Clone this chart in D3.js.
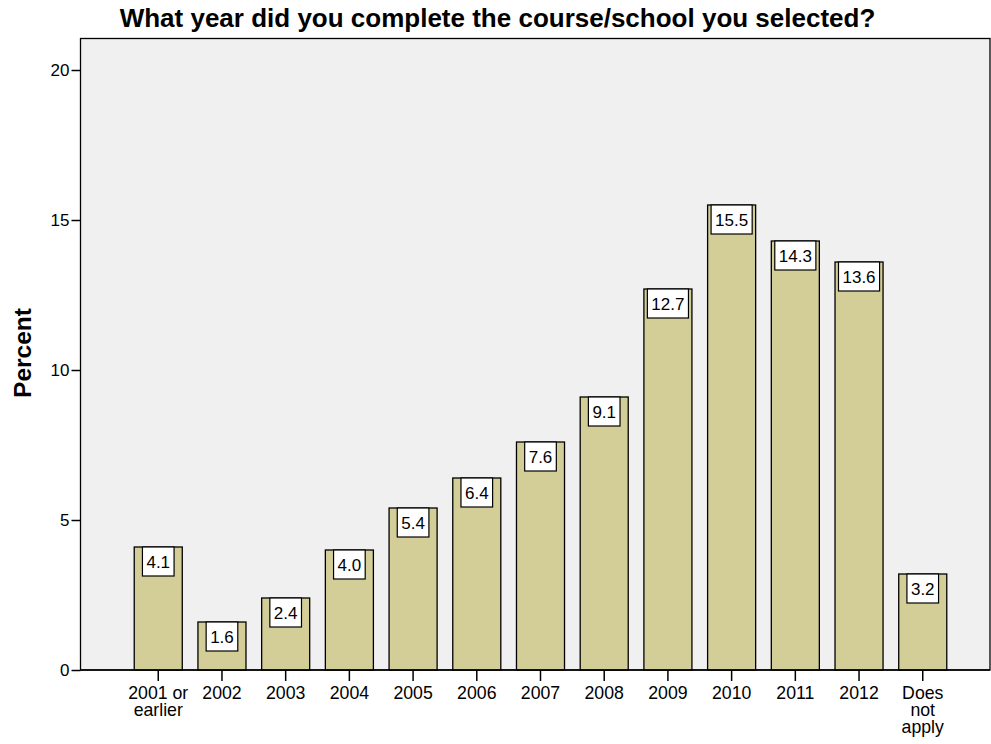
<!DOCTYPE html>
<html>
<head>
<meta charset="utf-8">
<script src="https://cdn.jsdelivr.net/npm/d3@7"></script>
<style>
  body { margin: 0; background: #fff; }
  svg { display: block; font-family: Arial, "Liberation Sans", sans-serif; }
</style>
</head>
<body>
<div id="chart"></div>
<script>
const width = 991;
const height = 744;

// data
const categories = ['2001 or earlier', '2002', '2003', '2004', '2005', '2006', '2007',
  '2008', '2009', '2010', '2011', '2012', 'Does not apply'];
const tickLines = [['2001 or', 'earlier'], ['2002'], ['2003'], ['2004'], ['2005'], ['2006'],
  ['2007'], ['2008'], ['2009'], ['2010'], ['2011'], ['2012'], ['Does', 'not', 'apply']];
const percents = [4.1, 1.6, 2.4, 4.0, 5.4, 6.4, 7.6, 9.1, 12.7, 15.5, 14.3, 13.6, 3.2];
const yTicks = [0, 5, 10, 15, 20];

const frame = { left: 80.5, right: 990, top: 38.5, bottom: 670 };

const svg = d3.select('#chart')
  .append('svg')
  .attr('width', width)
  .attr('height', height);

const xScale = d3.scaleBand()
  .domain(categories)
  .range([126.4, 954.6])
  .paddingInner(0.246)
  .paddingOuter(0.123);

const yScale = d3.scaleLinear()
  .domain([0, 21.05])
  .range([frame.bottom, frame.top]);

// plot background + frame
svg.append('rect')
  .attr('x', frame.left)
  .attr('y', frame.top)
  .attr('width', frame.right - frame.left)
  .attr('height', frame.bottom - frame.top)
  .attr('fill', '#f0f0f0')
  .attr('stroke', '#000')
  .attr('stroke-width', 1.3);

// bars
const bars = svg.append('g').attr('class', 'bars');
bars.selectAll('rect')
  .data(percents)
  .join('rect')
  .attr('x', (d, i) => xScale(categories[i]))
  .attr('y', d => yScale(d))
  .attr('width', xScale.bandwidth())
  .attr('height', d => yScale(0) - yScale(d))
  .attr('fill', '#d3ce97')
  .attr('stroke', '#000')
  .attr('stroke-width', 1.3);

// value labels (white boxes at the top of each bar)
const labels = svg.append('g').attr('class', 'labels');
percents.forEach((d, i) => {
  const cx = xScale(categories[i]) + xScale.bandwidth() / 2;
  const top = yScale(d);
  const g = labels.append('g');
  const t = g.append('text')
    .attr('x', cx)
    .attr('y', top + 20.5)
    .attr('text-anchor', 'middle')
    .attr('font-size', 17)
    .attr('fill', '#000')
    .text(d.toFixed(1));
  const w = t.node().getComputedTextLength() + 8;
  g.insert('rect', 'text')
    .attr('x', cx - w / 2)
    .attr('y', top)
    .attr('width', w)
    .attr('height', 29)
    .attr('fill', '#fff')
    .attr('stroke', '#000')
    .attr('stroke-width', 1.2);
});

// y axis
const yAxis = svg.append('g')
  .attr('transform', `translate(${frame.left},0)`)
  .call(d3.axisLeft(yScale).tickValues(yTicks).tickSize(9).tickPadding(2).tickFormat(d3.format('d')));
yAxis.select('.domain').remove();
yAxis.selectAll('line').attr('stroke', '#000').attr('stroke-width', 1.5);
yAxis.selectAll('text')
  .attr('font-size', 17)
  .attr('font-family', 'Arial, "Liberation Sans", sans-serif')
  .attr('fill', '#000');

// x axis
const xAxis = svg.append('g')
  .attr('transform', `translate(0,${frame.bottom})`)
  .call(d3.axisBottom(xScale).tickSize(11).tickFormat(''));
xAxis.select('.domain').remove();
xAxis.selectAll('line').attr('stroke', '#000').attr('stroke-width', 1.5);
xAxis.selectAll('.tick').each(function (d, i) {
  const txt = d3.select(this).append('text')
    .attr('text-anchor', 'middle')
    .attr('font-size', 17.7)
    .attr('fill', '#000');
  tickLines[i].forEach((line, j) => {
    txt.append('tspan')
      .attr('x', 0)
      .attr('y', 29 + j * 17)
      .text(line);
  });
});

// baseline
svg.append('line')
  .attr('x1', frame.left)
  .attr('x2', frame.right)
  .attr('y1', frame.bottom)
  .attr('y2', frame.bottom)
  .attr('stroke', '#000')
  .attr('stroke-width', 1.5);

// title
svg.append('text')
  .attr('x', 497.5)
  .attr('y', 27)
  .attr('text-anchor', 'middle')
  .attr('font-size', 26)
  .attr('font-weight', 'bold')
  .text('What year did you complete the course/school you selected?');

// y axis label
svg.append('text')
  .attr('transform', 'translate(31,353) rotate(-90)')
  .attr('text-anchor', 'middle')
  .attr('font-size', 24.5)
  .attr('font-weight', 'bold')
  .text('Percent');
</script>
</body>
</html>
